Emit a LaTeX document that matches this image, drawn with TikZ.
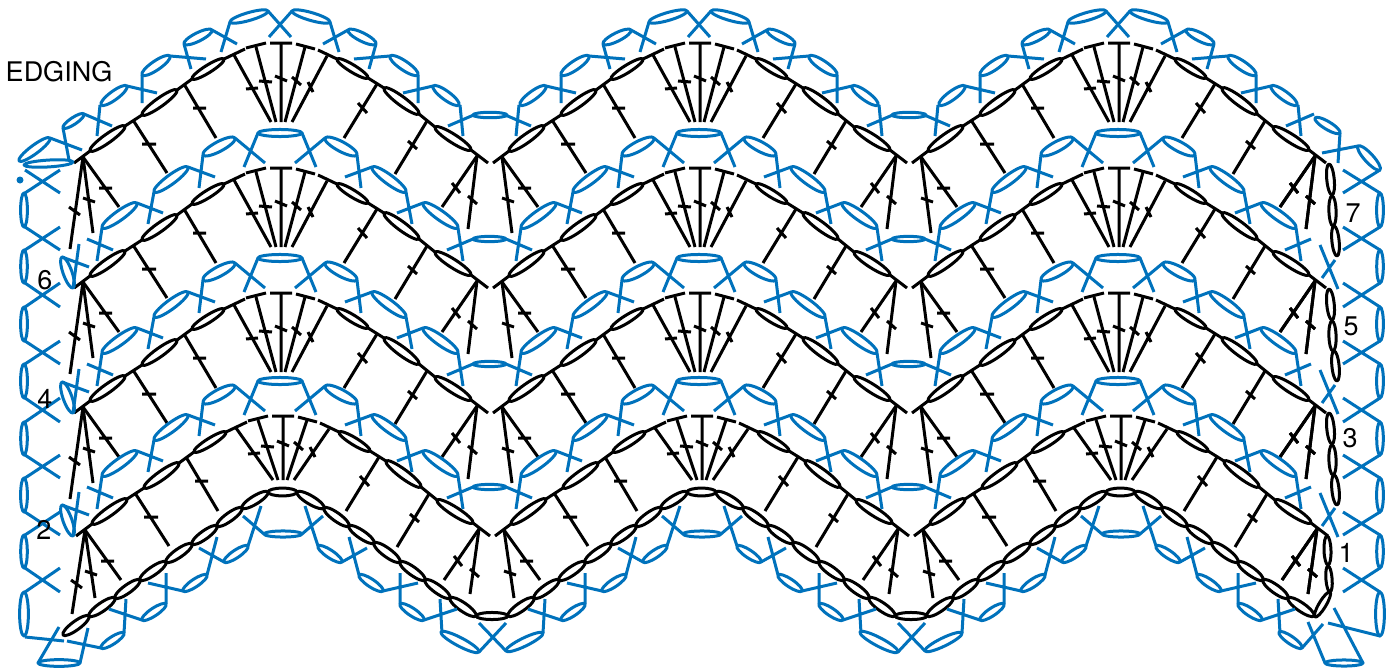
\documentclass[tikz,border=0pt]{standalone}
\usepackage{fontspec}
\usetikzlibrary{calc}
\setmainfont{TeX Gyre Heros}
\definecolor{edgeblue}{HTML}{0072BC}
\tikzset{
  blackst/.style={black,line width=1.5pt,line join=round},
  bluest/.style={edgeblue,line width=1.5pt,line join=round},
  numlabel/.style={inner sep=0pt,font=\fontsize{13.5}{15}\selectfont}
}
\newcommand{\lens}[4][0.27]{\draw[#2] let \p1=(#3),\p2=(#4),\n1={atan2(\y2-\y1,\x2-\x1)},\n2={veclen(\x2-\x1,\y2-\y1)/2} in ($(#3)!.5!(#4)$) ellipse[x radius=\n2,y radius=#1*\n2,rotate=\n1];}
\newcommand{\blackrow}[3]{%
\draw[blackst] (74,163)--(90,151) (125,126)--(142,115) (177,90)--(192,79) (224,59)--(245,49);
\draw[blackst] (246,48)--(266,43) (270,43)--(292,43) (296,44)--(315,49) (318,50)--(337,59);
\draw[blackst] (368,78)--(384,88) (419,114)--(435,127) (471,150)--(488,163);
\lens[0.2]{blackst}{90,151}{125,126}
\lens[0.2]{blackst}{142,115}{177,90}
\lens[0.2]{blackst}{192,79}{224,59}
\lens[0.2]{blackst}{337,59}{368,78}
\lens[0.2]{blackst}{384,88}{419,114}
\lens[0.2]{blackst}{435,127}{471,150}
\draw[blackst] (83,157)--(93,#2+4) (83,198)--(95,202);
\draw[blackst] (83,157)--(119,207) (99,188)--(112,188);
\draw[blackst] (133,120)--(167,173) (142,144)--(156,144);
\draw[blackst] (184,84)--(216,138) (193,108)--(206,108);
\draw[blackst] (234,55)--(271,#1) (246,89+#3)--(258,88+#3);
\draw[blackst] (256,47)--(276,#1) (259,81+#3)--(272,82+#3);
\draw[blackst] (281,43)--(281,#1) (275,76+#3)--(287,81+#3);
\draw[blackst] (305,47)--(285,#1) (292,77+#3)--(301,85+#3);
\draw[blackst] (327,56)--(292,#1) (308,82+#3)--(313,92+#3);
\draw[blackst] (377,84)--(344,138) (358,103)--(367,113);
\draw[blackst] (427,121)--(395,174) (408,141)--(417,149);
\draw[blackst] (477,156)--(442,207) (452,183)--(460,193);
\draw[blackst] (477,156)--(468,#2) (468,196)--(477,204);
}
\newcommand{\topedge}{%
\draw[bluest] (268,11)--(291,37);
\lens[0.2]{bluest}{230,22}{268,11}
\draw[bluest] (230,22)--(221,52) (212,30)--(237,44);
\lens{bluest}{184,44}{212,30}
\draw[bluest] (184,44)--(191,69) (170,56)--(206,59);
\lens{bluest}{142,75}{170,56}
\draw[bluest] (142,75)--(142,103) (127,86)--(157,93);
\lens{bluest}{101,105}{127,86}
\draw[bluest] (100,105)--(97,136) (84,114)--(112,126);
}
\newcommand{\midedge}{%
\draw[bluest] (258,133)--(244,167) (235,138)--(265,163);
\lens{bluest}{203,155}{235,138}
\draw[bluest] (203,155)--(199,188) (188,167)--(215,177);
\lens[0.22]{bluest}{154,192}{188,167}
\draw[bluest] (154,192)--(148,224) (137,203)--(163,213);
\lens[0.22]{bluest}{102,228}{137,203}
\draw[bluest] (102,228)--(97,261) (87,239)--(113,250);
}
\newcommand{\lowedge}{%
\draw[bluest] (264,534)--(243,516) (261,506)--(248,546);
\lens{bluest}{224,562}{248,546}
\draw[bluest] (224,562)--(199,548) (217,537)--(207,575);
\lens{bluest}{183,591}{207,575}
\draw[bluest] (183,591)--(148,583) (166,573)--(166,604);
\lens{bluest}{142,620}{166,604}
\draw[bluest] (142,620)--(109,609) (126,599)--(124,633);
}
\newcommand{\footchain}{%
\lens{blackst}{89,616}{115,598}
\lens{blackst}{115,598}{140,580}
\lens{blackst}{140,580}{166,562}
\lens{blackst}{166,562}{192,544}
\lens{blackst}{192,544}{217,526}
\lens{blackst}{217,526}{242,508}
\lens{blackst}{242,508}{268,492}
\lens{blackst}{268,492}{297,492}
\lens{blackst}{297,492}{324,508}
\lens{blackst}{324,508}{349,526}
\lens{blackst}{349,526}{374,543}
\lens{blackst}{374,543}{400,562}
\lens{blackst}{400,562}{425,580}
\lens{blackst}{425,580}{450,598}
\lens{blackst}{450,598}{476,616}
}
\begin{document}
\begin{tikzpicture}[x=0.5pt,y=-0.5pt]
\useasboundingbox (0,0) rectangle (1392,669);
\foreach \ry/\rx/\cy/\sy/\ty in {0/0/122/229/0,125/0/122/229/0,250/0/122/229/0,373/2/107/221/-8}{
  \foreach \i in {0,1,2}{
    \begin{scope}[shift={(\rx+419*\i,\ry)}]
    \blackrow{\cy}{\sy}{\ty}
    \end{scope}
  }
  \begin{scope}[shift={(\rx,\ry)}]
  \draw[blackst] (83,157)--(70,\sy+20) (69,207)--(80,215);
  \draw[blackst] (1315,156)--(1280,207) (1290,183)--(1298,193);
  \draw[blackst] (1315,156)--(1306,\sy) (1306,196)--(1315,204);
  \end{scope}
}
\foreach \ry in {0,125,249}{
  \begin{scope}[shift={(0,\ry)}]
  \lens[0.24]{blackst}{1329,164}{1332,195}
  \lens[0.24]{blackst}{1332,196}{1333,226}
  \lens[0.24]{blackst}{1334,226}{1337,256}
  \end{scope}
}
\lens[0.24]{blackst}{1327,536}{1328,565}
\lens[0.24]{blackst}{1328,566}{1330,592}
\lens[0.24]{blackst}{1330,592}{1315,617}
\lens{blackst}{63,635}{89,616}
\foreach \i in {0,1,2}{
  \begin{scope}[shift={(419*\i,0)}]
  \footchain
  \end{scope}
}
\lens[0.22]{blackst}{476,616}{508,616}
\lens[0.22]{blackst}{895,616}{927,616}
% edging along the top
\foreach \i in {0,1,2}{
  \begin{scope}[shift={(419*\i,0)}]
  \topedge
  \begin{scope}[shift={(560,0)},xscale=-1]
  \topedge
  \end{scope}
  \end{scope}
}
\lens[0.16]{bluest}{473,115}{507,115}
\lens[0.16]{bluest}{892,115}{926,115}
\lens{bluest}{63,128}{84,114}
\draw[bluest] (63,128)--(69,160) (50,138)--(82,150);
\lens[0.22]{bluest}{19,161}{50,138}
\lens[0.14]{bluest}{24,165}{73,162}
\lens{bluest}{1315,118}{1340,133}
\draw[bluest] (1340,133)--(1338,163) (1322,153)--(1358,146);
\lens{bluest}{1358,146}{1380,170}
\fill[edgeblue] (20,180) circle (3.5);
% edging between the rows
\foreach \ry in {0,125,248}{
  \begin{scope}[shift={(0,\ry)}]
  \foreach \i in {0,1,2}{
    \begin{scope}[shift={(419*\i,0)}]
    \lens[0.16]{bluest}{258,133}{302,133}
    \midedge
    \begin{scope}[shift={(560,0)},xscale=-1]
    \midedge
    \end{scope}
    \end{scope}
  }
  \lens[0.16]{bluest}{473,239}{506,239}
  \lens[0.16]{bluest}{892,239}{925,239}
  \lens{bluest}{62,257}{73,288}
  \draw[bluest] (62,257)--(89,267) (79,244)--(73,288);
  \draw[bluest] (1320,245)--(1338,289) (1335,260)--(1322,278);
  \end{scope}
}
% edging under the foundation
\foreach \i in {0,1,2}{
  \begin{scope}[shift={(419*\i,0)}]
  \lens[0.16]{bluest}{264,534}{302,534}
  \lowedge
  \begin{scope}[shift={(566,0)},xscale=-1]
  \lowedge
  \end{scope}
  \end{scope}
}
\lens{bluest}{101,648}{124,633}
\lens[0.2]{bluest}{543,633}{506,651}
\lens[0.2]{bluest}{962,633}{925,651}
\lens[0.2]{bluest}{441,632}{479,652}
\lens[0.2]{bluest}{860,632}{898,652}
\lens{bluest}{1279,632}{1302,648}
\draw[bluest] (479,623)--(506,651) (506,623)--(479,652);
\draw[bluest] (898,623)--(925,651) (925,623)--(898,652);
\draw[bluest] (101,648)--(67,641) (64,641)--(25,637);
\draw[bluest] (59,627)--(38,663) (88,628)--(80,663);
\lens[0.16]{bluest}{38,663}{80,663}
\draw[bluest] (1302,648)--(1323,624) (1308,622)--(1325,663);
\lens[0.16]{bluest}{1325,663}{1363,663}
\draw[bluest] (1363,663)--(1334,608) (1328,623)--(1380,636);
% side edgings
\foreach \ya/\yb/\yc in {170/193/227,227/250/283,283/307/341,341/364/398,398/422/455,455/478/512,512/535/568,568/592/636}{
  \draw[bluest] (25,\ya)--(60,\yb) (60,\ya)--(25,\yb);
  \lens[0.2]{bluest}{24,\yb}{24,\yc}
  \draw[bluest] (1380,\ya)--(1343,\yb) (1343,\ya)--(1380,\yb);
  \lens[0.2]{bluest}{1380,\yb}{1380,\yc}
}
\node[numlabel] (edging) at (59,72) {EDGING};
\node[numlabel] (n7) at (1353,213) {7};
\node[numlabel] (n6) at (45,280) {6};
\node[numlabel] (n5) at (1351,326) {5};
\node[numlabel] (n4) at (45,399) {4};
\node[numlabel] (n3) at (1350,438) {3};
\node[numlabel] (n2) at (44,530) {2};
\node[numlabel] (n1) at (1346,553) {1};
\end{tikzpicture}
\end{document}
